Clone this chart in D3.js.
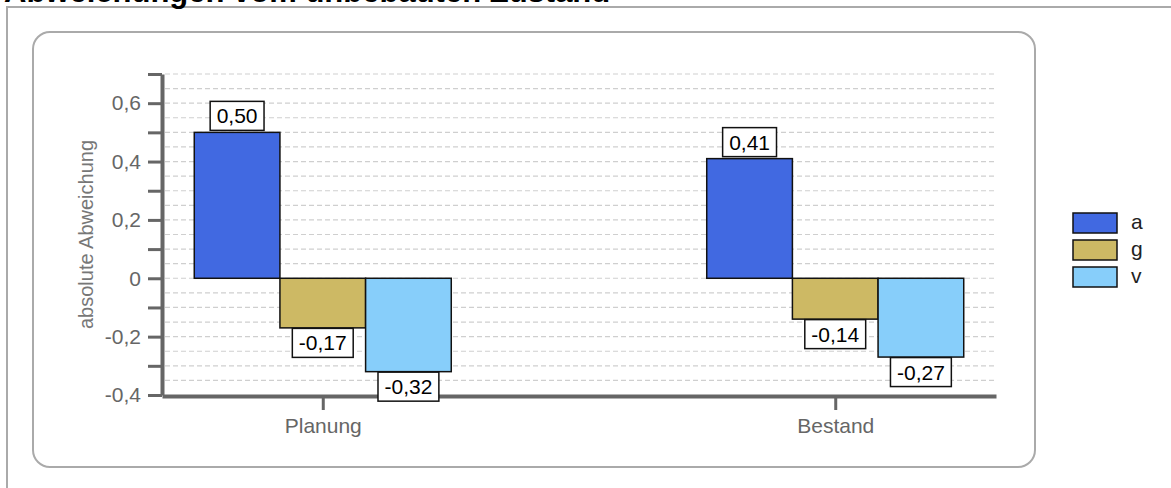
<!DOCTYPE html>
<html>
<head>
<meta charset="utf-8">
<script src="https://cdn.jsdelivr.net/npm/d3@7"></script>
<style>
  html, body { margin: 0; padding: 0; background: #fff; overflow: hidden; }
  svg { display: block; font-family: "Liberation Sans", Arial, sans-serif; }
</style>
</head>
<body>
<svg id="chart" width="1171" height="488"></svg>
<script>
// Categories and series
const categories = ["Planung", "Bestand"];
const seriesNames = ["a", "g", "v"];
const seriesColors = ["#4169e1", "#cdb964", "#87cefa"];

// Values per series (one per category)
const valuesA = [0.50, 0.41];
const valuesG = [-0.17, -0.14];
const valuesV = [-0.32, -0.27];

// Y axis ticks (every 0.1, labelled every 0.2) and grid (every 0.05)
const yTicks = [-0.4, -0.3, -0.2, -0.1, 0, 0.1, 0.2, 0.3, 0.4, 0.5, 0.6, 0.7];
const yTickLabels = ["-0,4", "", "-0,2", "", "0", "", "0,2", "", "0,4", "", "0,6", ""];
const gridValues = [-0.35, -0.3, -0.25, -0.2, -0.15, -0.1, -0.05, 0, 0.05, 0.1, 0.15, 0.2, 0.25, 0.3, 0.35, 0.4, 0.45, 0.5, 0.55, 0.6, 0.65, 0.7];

const titleText = "Abweichungen vom unbebauten Zustand";
const yAxisTitle = "absolute Abweichung";

const seriesValues = [valuesA, valuesG, valuesV];
const rows = [];
categories.forEach((c, ci) => {
  seriesNames.forEach((s, si) => {
    rows.push({ category: c, series: s, value: seriesValues[si][ci], color: seriesColors[si] });
  });
});

const de = d3.formatLocale({ decimal: ",", thousands: ".", grouping: [3], currency: ["", " €"], minus: "-" });
const fmt2 = de.format(".2f");

const svg = d3.select("#chart");

// Outer frame and title
svg.append("path")
  .attr("d", "M7,488 V7 H1171")
  .attr("fill", "none").attr("stroke", "#aaa").attr("stroke-width", 2);
svg.append("text")
  .attr("x", 4).attr("y", 2)
  .attr("font-size", 31).attr("font-weight", "bold").attr("fill", "#000")
  .text(titleText);

// Rounded plot panel
svg.append("rect")
  .attr("x", 33).attr("y", 32).attr("width", 1002).attr("height", 435)
  .attr("rx", 17).attr("ry", 17)
  .attr("fill", "#fff").attr("stroke", "#aaa").attr("stroke-width", 2);

// Scales
const plotLeft = 162, plotRight = 996;
const y = d3.scaleLinear().domain([-0.4, 0.7]).range([395, 74]);
const x = d3.scalePoint().domain(categories).range([plotLeft, plotRight]).padding(0.3137);
const xs = d3.scaleBand().domain(seriesNames).range([-128.5, 128.5]).padding(0);

// Dashed grid
svg.append("g").selectAll("line")
  .data(gridValues)
  .join("line")
  .attr("x1", plotLeft + 3).attr("x2", plotRight)
  .attr("y1", d => y(d)).attr("y2", d => y(d))
  .attr("stroke", "#cfcfcf").attr("stroke-width", 1.2)
  .attr("stroke-dasharray", "5,3");

// Bars
const bars = svg.append("g");
bars.selectAll("rect")
  .data(rows)
  .join("rect")
  .attr("x", d => x(d.category) + xs(d.series))
  .attr("width", xs.bandwidth())
  .attr("y", d => Math.min(y(d.value), y(0)))
  .attr("height", d => Math.abs(y(d.value) - y(0)))
  .attr("fill", d => d.color)
  .attr("stroke", "#111").attr("stroke-width", 1.5);

// Y axis
const yAxis = svg.append("g")
  .attr("transform", `translate(${plotLeft},0)`)
  .call(d3.axisLeft(y).tickValues(yTicks).tickSize(14).tickSizeOuter(0).tickPadding(7)
    .tickFormat((d, i) => yTickLabels[i]));
yAxis.select(".domain").attr("stroke", "#666").attr("stroke-width", 4);
yAxis.selectAll(".tick line").attr("stroke", "#666").attr("stroke-width", 3);
yAxis.selectAll(".tick text").attr("font-size", 21).attr("fill", "#666")
  .attr("font-family", "Liberation Sans, Arial, sans-serif");

// X axis
const xAxis = svg.append("g")
  .attr("transform", `translate(0,${y(-0.4) + 1})`)
  .call(d3.axisBottom(x).tickSize(14).tickSizeOuter(0).tickPadding(8));
xAxis.select(".domain").attr("stroke", "#666").attr("stroke-width", 4);
xAxis.selectAll(".tick line").attr("stroke", "#666").attr("stroke-width", 3);
xAxis.selectAll(".tick text").attr("font-size", 21).attr("fill", "#666")
  .attr("font-family", "Liberation Sans, Arial, sans-serif");

// Value labels in white boxes (drawn above the axes)
const labels = svg.append("g").attr("font-size", 21);
rows.forEach(d => {
  const cx = x(d.category) + xs(d.series) + xs.bandwidth() / 2;
  const g = labels.append("g");
  const t = g.append("text")
    .attr("x", cx).attr("text-anchor", "middle").attr("fill", "#000")
    .text(fmt2(d.value));
  const w = t.node().getComputedTextLength() + 13;
  const h = 29;
  const top = d.value >= 0 ? y(d.value) - 2 - h : y(d.value) + 0.5;
  g.insert("rect", "text")
    .attr("x", cx - w / 2).attr("y", top).attr("width", w).attr("height", h)
    .attr("fill", "#fff").attr("stroke", "#111").attr("stroke-width", 1.5);
  t.attr("y", top + h / 2 + 7.5);
});

// Y axis title
svg.append("text")
  .attr("transform", `translate(93,${(y(0.7) + y(-0.4)) / 2}) rotate(-90)`)
  .attr("text-anchor", "middle")
  .attr("font-size", 20).attr("fill", "#777")
  .text(yAxisTitle);

// Legend
const legend = svg.append("g").attr("transform", "translate(1073,213)");
seriesNames.forEach((s, i) => {
  legend.append("rect")
    .attr("x", 0).attr("y", i * 27).attr("width", 44).attr("height", 20)
    .attr("fill", seriesColors[i]).attr("stroke", "#111").attr("stroke-width", 1.5);
  legend.append("text")
    .attr("x", 58).attr("y", i * 27 + 16)
    .attr("font-size", 21).attr("fill", "#222")
    .text(s);
});
</script>
</body>
</html>
